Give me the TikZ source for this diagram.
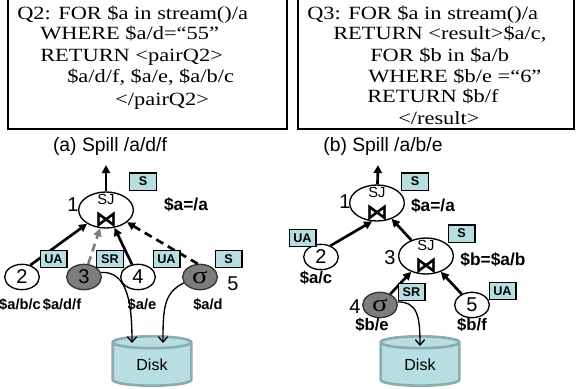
\documentclass[tikz,border=0pt]{standalone}
\usepackage{fontspec}
\setmainfont{Liberation Serif}[FakeStretch=1.2]
\setsansfont{Liberation Sans}
\newfontfamily\joinfont[FakeBold=3]{DejaVu Sans}
\usetikzlibrary{shapes.geometric,arrows.meta,positioning}
\definecolor{tagblue}{RGB}{183,222,224}
\definecolor{diskedge}{RGB}{140,172,176}
\definecolor{opgray}{RGB}{125,125,125}
\begin{document}
\begin{tikzpicture}[
		x=0.75pt, y=-0.75pt,
		query/.style={anchor=base west, inner sep=0pt, font=\fontsize{14}{16}\selectfont},
		qbox/.style={draw, line width=2pt},
		caption/.style={font=\sffamily\fontsize{14.5}{16}\selectfont},
		sj/.style={ellipse, draw, line width=1pt, fill=white, minimum width=41pt, minimum height=27pt, inner sep=0pt},
		sjname/.style={inner sep=0pt, font=\sffamily\fontsize{11}{11}\selectfont},
		sjsign/.style={inner sep=0pt, font=\joinfont\fontsize{16}{16}\selectfont},
		op/.style={ellipse, draw, line width=1pt, fill=white, minimum width=26pt, minimum height=19pt, inner sep=0pt, font=\sffamily\fontsize{15}{15}\selectfont},
		opsel/.style={op, fill=opgray, draw=black!80, font=\fontsize{18}{18}\selectfont},
		tag/.style={draw, fill=tagblue, line width=1pt, minimum width=20pt, minimum height=13pt, inner sep=0pt, font=\sffamily\bfseries\fontsize{9.5}{10}\selectfont},
		num/.style={inner sep=0pt, font=\sffamily\fontsize{15}{15}\selectfont},
		pred/.style={inner sep=0pt, font=\sffamily\bfseries\fontsize{13}{14}\selectfont},
		xpath/.style={inner sep=0pt, font=\sffamily\bfseries\fontsize{11}{12}\selectfont},
		xpathb/.style={xpath, font=\sffamily\bfseries\fontsize{12.5}{13}\selectfont},
		disk/.style={cylinder, shape border rotate=90, aspect=0.38, draw=diskedge, line width=2pt, cylinder uses custom fill, cylinder body fill=tagblue, cylinder end fill=tagblue, minimum width=59pt, minimum height=37pt, inner sep=0pt, anchor=south, font=\sffamily\fontsize{12}{12}\selectfont},
		link/.style={line width=2pt, -{Triangle[length=6pt,width=6pt]}},
		spill/.style={line width=1pt, -{Straight Barb[length=4pt,width=7pt]}}
	]
	\useasboundingbox (0,0) rectangle (576,389);

	\draw[qbox] (8,-5) rectangle (287,129);
	\node[query] (q2l1) at (17,19) {Q2: FOR \$a in stream()/a};
	\node[query] (q2l2) at (40,40) {WHERE \$a/d=“55”};
	\node[query] (q2l3) at (40,61) {RETURN <pairQ2>};
	\node[query] (q2l4) at (67,82) {\$a/d/f, \$a/e, \$a/b/c};
	\node[query] (q2l5) at (115,105) {</pairQ2>};

	\draw[qbox] (298,-5) rectangle (574,129);
	\node[query] (q3l1) at (307,19) {Q3: FOR \$a in stream()/a};
	\node[query] (q3l2) at (333,40) {RETURN <result>\$a/c,};
	\node[query] (q3l3) at (370,61) {FOR \$b in \$a/b};
	\node[query] (q3l4) at (368,82) {WHERE \$b/e =“6”};
	\node[query] (q3l5) at (367,103) {RETURN \$b/f};
	\node[query] (q3l6) at (398,124) {</result>};

	\node[caption] (capA) at (110,147) {(a) Spill /a/d/f};
	\node[caption] (capB) at (383,147) {(b) Spill /a/b/e};

	\node[sj] (sjA) at (106,210) {};
	\node[sjname] (sjAname) at ([yshift=8]sjA.center) {SJ};
	\node[sjsign] (sjAsign) at ([yshift=-7]sjA.center) {⋈};
	\node[num] (numA1) at (73,205) {1};
	\coordinate (outA) at (106,165);
	\node[pred] (predA1) at (186,205) {\$a=/a};
	\node[op] (nA2) at (22,277) {2};
	\node[opsel] (nA3) at (84,277) {};
	\node[num] (numA3) at (nA3) {3};
	\node[op] (nA4) at (138,277) {4};
	\node[opsel] (nA5) at (200,277) {σ};
	\node[num] (numA5) at (233,284) {5};
	\node[xpath] (pA2) at (20,305) {\$a/b/c};
	\node[xpath] (pA3) at (62,305) {\$a/d/f};
	\node[xpath] (pA4) at (142,305) {\$a/e};
	\node[xpath] (pA5) at (208,305) {\$a/d};
	\node[disk] (diskA) at (152,387) {Disk};
	\coordinate (inA3) at ([shift={(-20,8)}]diskA.north);
	\coordinate (inA5) at ([shift={(11,8)}]diskA.north);

	\draw[link] (sjA) -- (outA);
	\draw[link] (nA2.55) -- (sjA);
	\draw[link, opgray, dash pattern=on 6pt off 4pt] (nA3) -- (sjA);
	\draw[link] (nA4) -- (sjA);
	\draw[link, dash pattern=on 6pt off 4pt] (nA5.100) -- (sjA);
	\draw[spill] (nA3.15) .. controls +(28,-2) and +(0,-35) .. (inA3);
	\draw[spill] (nA5.200) .. controls +(-20,10) and +(0,-35) .. (inA5);

	\node[tag] (tagA1) at (143,181.5) {S};
	\node[tag] (tagA2) at (53.5,259) {UA};
	\node[tag] (tagA3) at (110,259) {SR};
	\node[tag] (tagA4) at (166.5,259) {UA};
	\node[tag] (tagA5) at (228.5,259) {S};

	\node[sj] (sjB1) at (377,203) {};
	\node[sjname] (sjB1name) at ([yshift=8]sjB1.center) {SJ};
	\node[sjsign] (sjB1sign) at ([yshift=-7]sjB1.center) {⋈};
	\node[num] (numB1) at (345,202) {1};
	\coordinate (outB) at (378,165);
	\node[pred] (predB1) at (433,206) {\$a=/a};
	\node[op] (nB2) at (321,257) {2};
	\node[xpathb] (pB2) at (316,278) {\$a/c};
	\node[sj] (sjB3) at (426,256) {};
	\node[sjname] (sjB3name) at ([yshift=8]sjB3.center) {SJ};
	\node[sjsign] (sjB3sign) at ([yshift=-7]sjB3.center) {⋈};
	\node[num] (numB3) at (390,258) {3};
	\node[pred] (predB3) at (493,260) {\$b=\$a/b};
	\node[opsel] (nB4) at (380,305) {σ};
	\node[num] (numB4) at (355,307) {4};
	\node[xpathb] (pB4) at (372,325) {\$b/e};
	\node[op] (nB5) at (472,305) {5};
	\node[xpathb] (pB5) at (472,325) {\$b/f};
	\node[disk] (diskB) at (420,387) {Disk};
	\coordinate (inB4) at ([shift={(0,11)}]diskB.north);

	\draw[link] (sjB1) -- (outB);
	\draw[link] (nB2.50) -- (sjB1.255);
	\draw[link] (sjB3) -- (sjB1);
	\draw[link] (nB4) -- (sjB3);
	\draw[link] (nB5) -- (sjB3);
	\draw[spill] (nB4.10) .. controls +(20,0) and +(0,-30) .. (inB4);

	\node[tag] (tagB1) at (415,181.5) {S};
	\node[tag] (tagB2) at (302.5,238) {UA};
	\node[tag] (tagB3) at (461.5,233.5) {S};
	\node[tag] (tagB4) at (411.5,292) {SR};
	\node[tag] (tagB5) at (502.5,291) {UA};
\end{tikzpicture}
\end{document}
